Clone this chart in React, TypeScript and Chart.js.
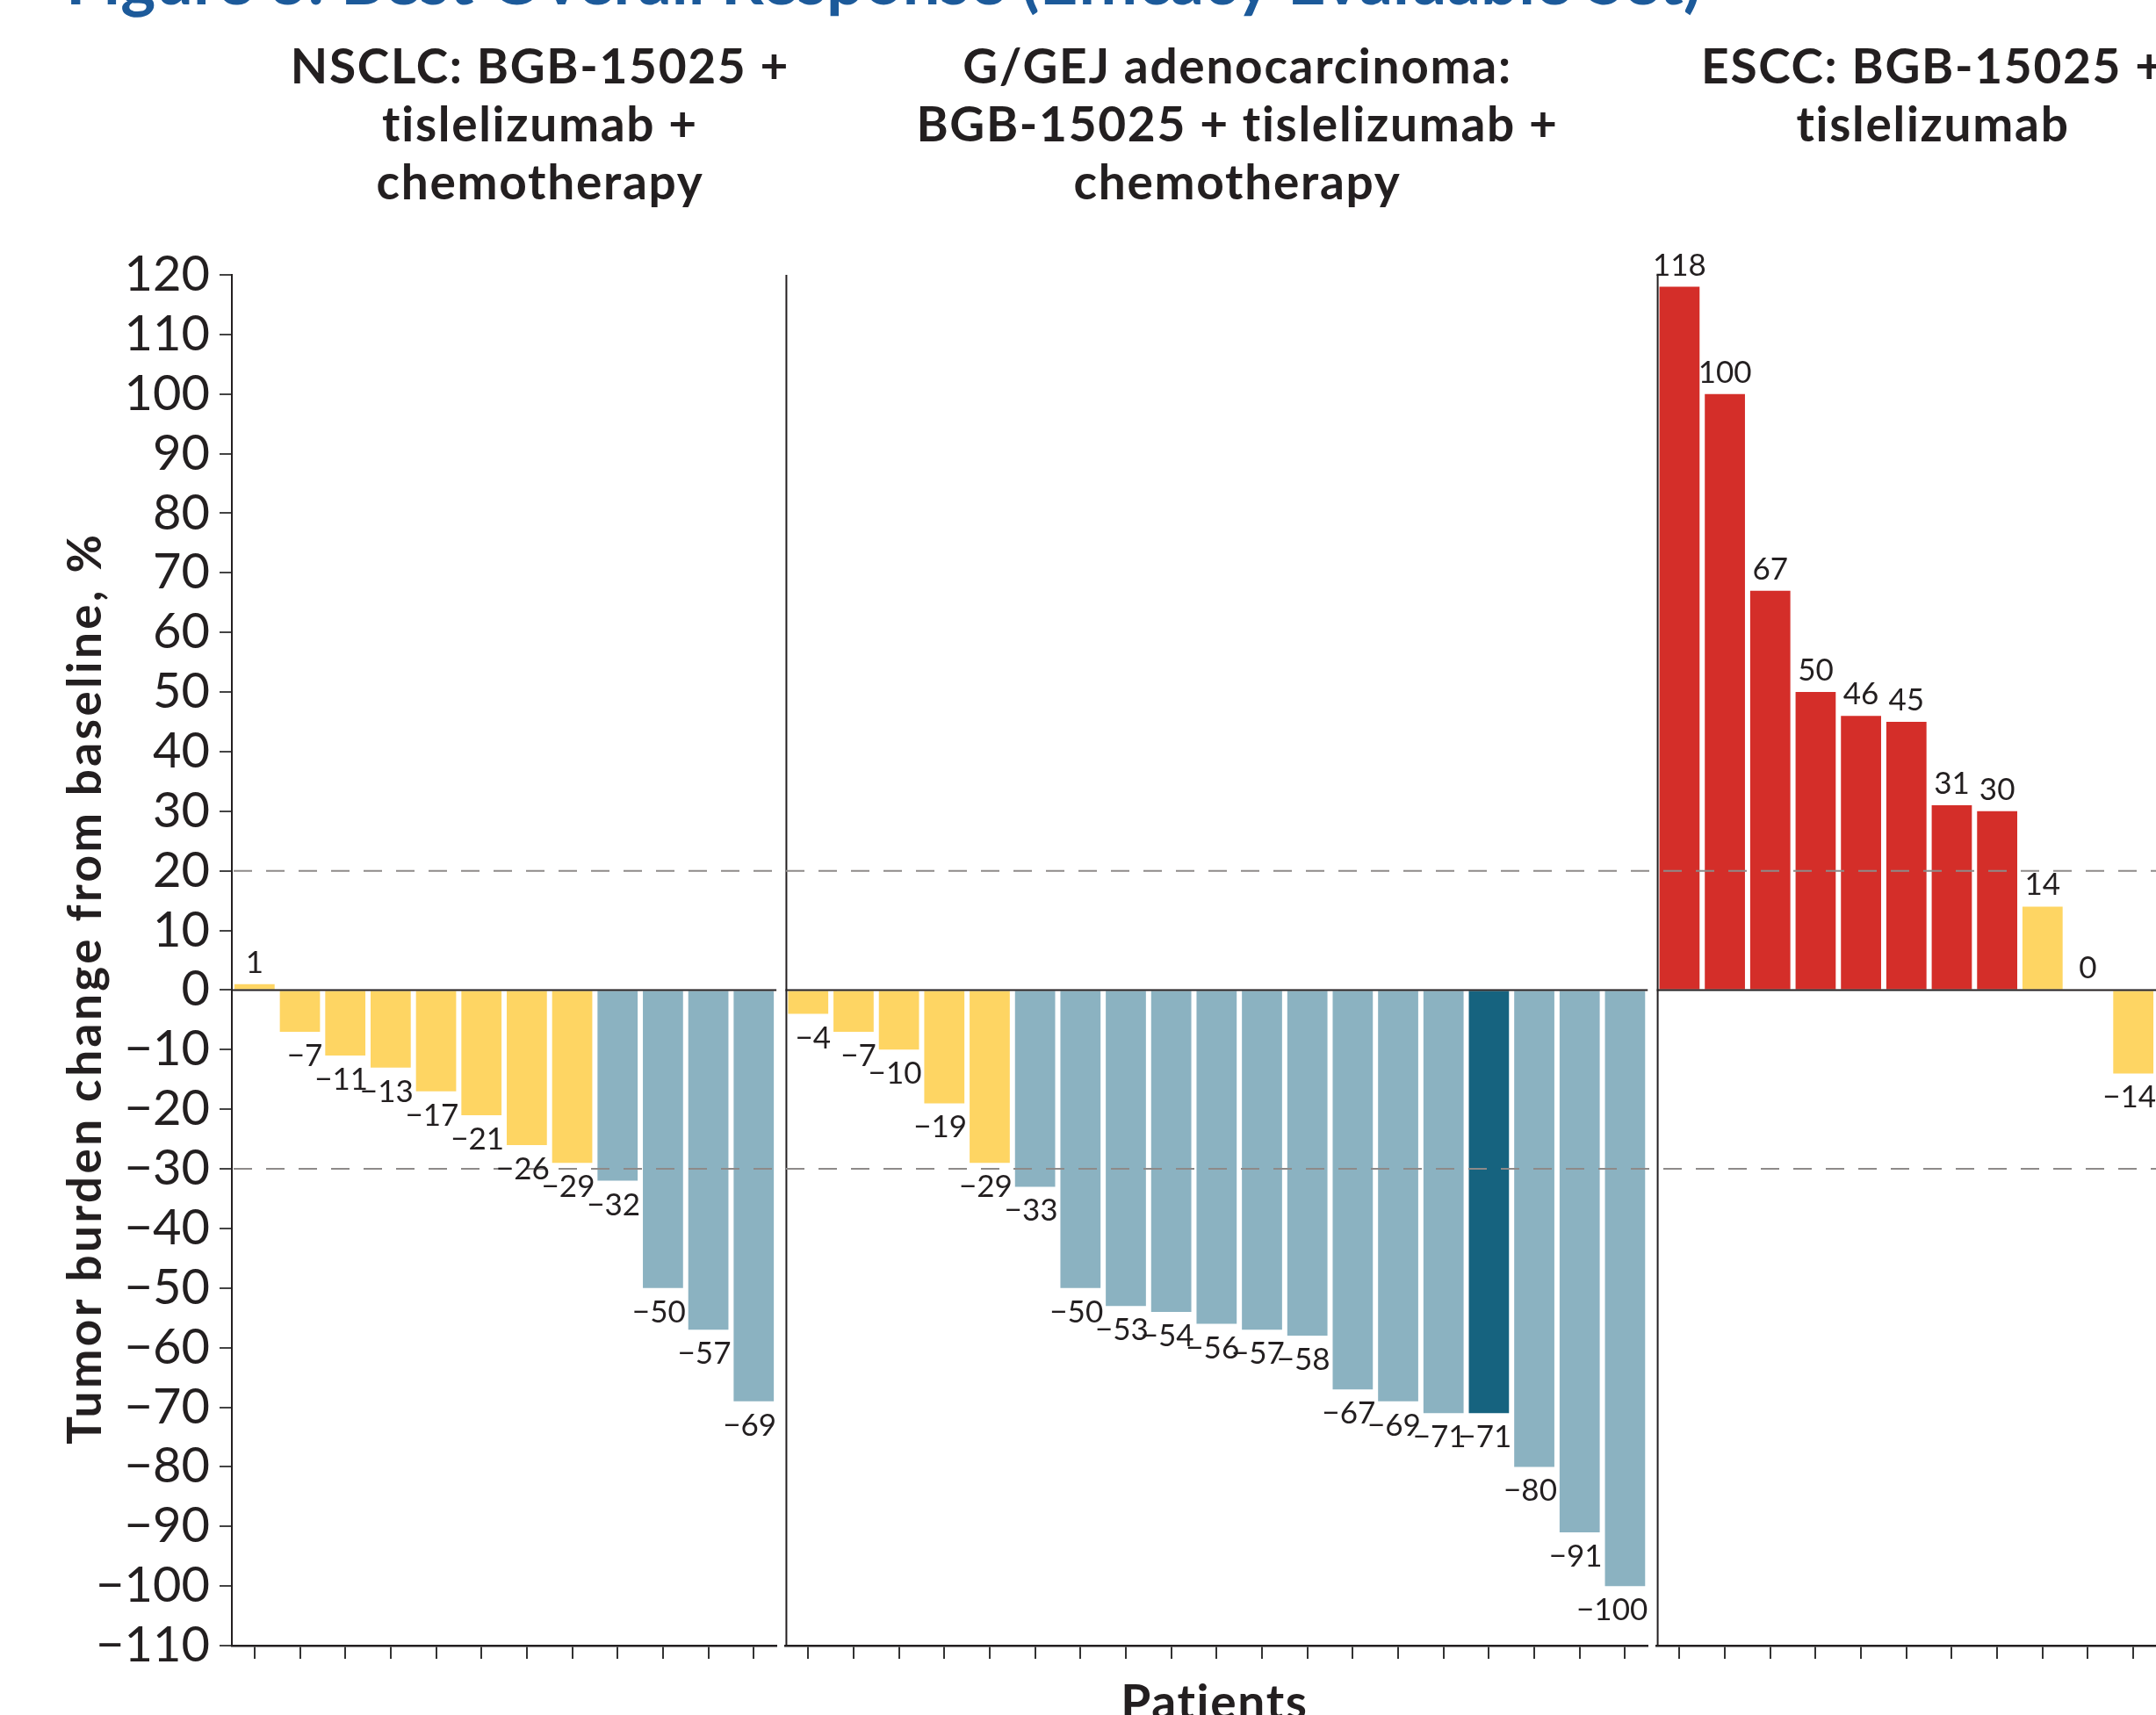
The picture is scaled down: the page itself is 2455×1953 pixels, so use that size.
import React, { useEffect, useRef } from 'react';
import { Chart, registerables } from 'chart.js';

Chart.register(...registerables);

// ---------------- data ----------------
const figureTitle = 'Figure 3: Best Overall Response (Efficacy Evaluable Set)';
const yAxisTitle = 'Tumor burden change from baseline, %';
const xAxisTitle = 'Patients';

const nsclcTitle = ['NSCLC: BGB-15025 +', 'tislelizumab +', 'chemotherapy'];
const nsclcPatients = ['N1', 'N2', 'N3', 'N4', 'N5', 'N6', 'N7', 'N8', 'N9', 'N10', 'N11', 'N12'];
const nsclcChange = [1, -7, -11, -13, -17, -21, -26, -29, -32, -50, -57, -69];
const nsclcResponse = ['SD', 'SD', 'SD', 'SD', 'SD', 'SD', 'SD', 'SD', 'PR', 'PR', 'PR', 'PR'];

const gejTitle = ['G/GEJ adenocarcinoma:', 'BGB-15025 + tislelizumab +', 'chemotherapy'];
const gejPatients = ['G1', 'G2', 'G3', 'G4', 'G5', 'G6', 'G7', 'G8', 'G9', 'G10', 'G11', 'G12', 'G13', 'G14', 'G15', 'G16', 'G17', 'G18', 'G19'];
const gejChange = [-4, -7, -10, -19, -29, -33, -50, -53, -54, -56, -57, -58, -67, -69, -71, -71, -80, -91, -100];
const gejResponse = ['SD', 'SD', 'SD', 'SD', 'SD', 'PR', 'PR', 'PR', 'PR', 'PR', 'PR', 'PR', 'PR', 'PR', 'PR', 'CR', 'PR', 'PR', 'PR'];

const esccTitle = ['ESCC: BGB-15025 +', 'tislelizumab'];
const esccPatients = ['E1', 'E2', 'E3', 'E4', 'E5', 'E6', 'E7', 'E8', 'E9', 'E10', 'E11'];
const esccChange = [118, 100, 67, 50, 46, 45, 31, 30, 14, 0, -14];
const esccResponse = ['PD', 'PD', 'PD', 'PD', 'PD', 'PD', 'PD', 'PD', 'SD', 'SD', 'SD'];

const yMin = -110;
const yMax = 120;
const yStep = 10;
const thresholdLines = [20, -30];

const responseColors: Record<string, string> = {
  SD: '#FED563',
  PR: '#8BB2C1',
  CR: '#16637F',
  PD: '#D42E29',
};

// ---------------- styles ----------------
const FONT = 'Lato, "Open Sans", sans-serif';
const INK = '#231f20';

const fmt = (v: number) => (v < 0 ? '\u2212' + Math.abs(v) : String(v));

const overlayPlugin = {
  id: 'overlay',
  afterDatasetsDraw(chart: any) {
    const ctx = chart.ctx;
    const y = chart.scales.y;
    const panels = ['x1', 'x2', 'x3'].map((id) => chart.scales[id]);
    ctx.save();
    // vertical panel lines for panels 2 and 3
    ctx.strokeStyle = INK;
    ctx.lineWidth = 2;
    [panels[1], panels[2]].forEach((s: any) => {
      ctx.beginPath();
      ctx.moveTo(s.left + 1, y.top);
      ctx.lineTo(s.left + 1, y.bottom);
      ctx.stroke();
    });
    // zero lines
    const y0 = y.getPixelForValue(0);
    panels.forEach((s: any) => {
      ctx.beginPath();
      ctx.moveTo(s.left, y0);
      ctx.lineTo(s.right, y0);
      ctx.stroke();
    });
    // dashed threshold lines
    ctx.strokeStyle = '#8E8A89';
    ctx.lineWidth = 2;
    ctx.setLineDash([21, 16]);
    thresholdLines.forEach((v) => {
      const py = y.getPixelForValue(v);
      ctx.beginPath();
      ctx.moveTo(y.right + 2, py);
      ctx.lineTo(chart.width, py);
      ctx.stroke();
    });
    ctx.setLineDash([]);
    // value labels
    ctx.fillStyle = INK;
    ctx.font = `35px ${FONT}`;
    ctx.textBaseline = 'alphabetic';
    chart.data.datasets.forEach((ds: any, di: number) => {
      const meta = chart.getDatasetMeta(di);
      meta.data.forEach((bar: any, i: number) => {
        const v = ds.data[i];
        if (v >= 0) {
          ctx.textAlign = 'center';
          ctx.fillText(fmt(v), bar.x, bar.y - 13);
        } else {
          ctx.textAlign = 'right';
          ctx.fillText(fmt(v), bar.x + bar.width / 2 + 3, bar.y + 39);
        }
      });
    });
    ctx.restore();
  },
  afterDraw(chart: any) {
    const ctx = chart.ctx;
    ctx.save();
    // figure title (top mostly cropped)
    ctx.fillStyle = '#1C5A9A';
    ctx.textAlign = 'left';
    ctx.textBaseline = 'alphabetic';
    ctx.font = `bold 60px ${FONT}`;
    const w = ctx.measureText(figureTitle).width;
    const size = (60 * 1863) / w;
    ctx.font = `bold ${size}px ${FONT}`;
    ctx.fillText(figureTitle, 75, 5);

    // panel titles
    ctx.fillStyle = INK;
    ctx.textAlign = 'center';
    ctx.font = `bold 55px ${FONT}`;
    (ctx as any).letterSpacing = '1.7px';
    const titles: [string[], number][] = [
      [nsclcTitle, 615],
      [gejTitle, 1409],
      [esccTitle, 2201],
    ];
    titles.forEach(([lines, cx]) => {
      lines.forEach((line, li) => ctx.fillText(line, cx, 95 + li * 66));
    });

    // x axis title
    ctx.fillText(xAxisTitle, 1383, 1958);

    // y axis title
    ctx.font = `bold 53px ${FONT}`;
    (ctx as any).letterSpacing = '0px';
    const sp = 3.5;
    const w0 = ctx.measureText(yAxisTitle).width;
    const total = w0 + sp * (yAxisTitle.length - 1);
    (ctx as any).letterSpacing = `${sp}px`;
    ctx.textAlign = 'left';
    ctx.translate(115, 1127);
    ctx.rotate(-Math.PI / 2);
    ctx.fillText(yAxisTitle, -total / 2, 0);
    (ctx as any).letterSpacing = '0px';
    ctx.restore();
  },
};

const xAxis = (weight: number, labels: string[]) => ({
  type: 'category',
  labels,
  position: 'bottom',
  stack: 'panels',
  stackWeight: weight,
  offset: true,
  grid: {
    display: true,
    drawOnChartArea: false,
    drawTicks: true,
    tickLength: 15,
    offset: false,
    color: '#333333',
    lineWidth: 2,
  },
  border: { display: true, color: INK, width: 2.5 },
  ticks: { display: false },
  afterFit: (s: any) => {
    s.height = 20;
  },
});

const gapAxis = (weight: number) => ({
  type: 'category',
  labels: [''],
  position: 'bottom',
  stack: 'panels',
  stackWeight: weight,
  grid: { display: false },
  border: { display: false },
  ticks: { display: false },
  afterFit: (s: any) => {
    s.height = 20;
  },
});

export default function App() {
  const ref = useRef<HTMLCanvasElement | null>(null);

  useEffect(() => {
    if (!ref.current) return;
    Chart.defaults.font.family = FONT;
    const mk = (data: number[], resp: string[], axis: string, label: string) => ({
      label,
      data,
      xAxisID: axis,
      yAxisID: 'y',
      backgroundColor: resp.map((r) => responseColors[r]),
      borderWidth: 0,
      barPercentage: 0.885,
      categoryPercentage: 1,
      grouped: false,
    });
    const chart = new Chart(ref.current, {
      type: 'bar',
      data: {
        datasets: [
          mk(nsclcChange, nsclcResponse, 'x1', 'NSCLC'),
          mk(gejChange, gejResponse, 'x2', 'G/GEJ'),
          mk(esccChange, esccResponse, 'x3', 'ESCC'),
        ] as any,
      },
      options: {
        responsive: false,
        animation: false,
        devicePixelRatio: 1,
        layout: { padding: { top: 313, bottom: 59, left: 0, right: 0 } },
        plugins: {
          legend: { display: false },
          title: { display: false },
          tooltip: { enabled: false },
        },
        scales: {
          x1: xAxis(12, nsclcPatients),
          gapA: gapAxis(0.2),
          x2: xAxis(19, gejPatients),
          gapB: gapAxis(0.2),
          x3: xAxis(11, esccPatients),
          y: {
            type: 'linear',
            position: 'left',
            min: yMin,
            max: yMax,
            ticks: {
              stepSize: yStep,
              autoSkip: false,
              padding: 11,
              color: INK,
              font: { size: 56, family: FONT },
              callback: (v: any) => fmt(Number(v)),
            },
            grid: {
              display: true,
              drawOnChartArea: false,
              drawTicks: true,
              tickLength: 14,
              color: '#444444',
              lineWidth: 2,
            },
            border: { display: true, color: INK, width: 2 },
            afterFit: (s: any) => {
              s.width = 264;
            },
          },
        } as any,
      },
      plugins: [overlayPlugin],
    });
    return () => chart.destroy();
  }, []);

  return (
    <div style={{ position: 'fixed', left: 0, top: 0, width: 2455, height: 1953, background: '#ffffff', overflow: 'hidden' }}>
      <canvas ref={ref} width={2455} height={1953} style={{ display: 'block' }} />
    </div>
  );
}
